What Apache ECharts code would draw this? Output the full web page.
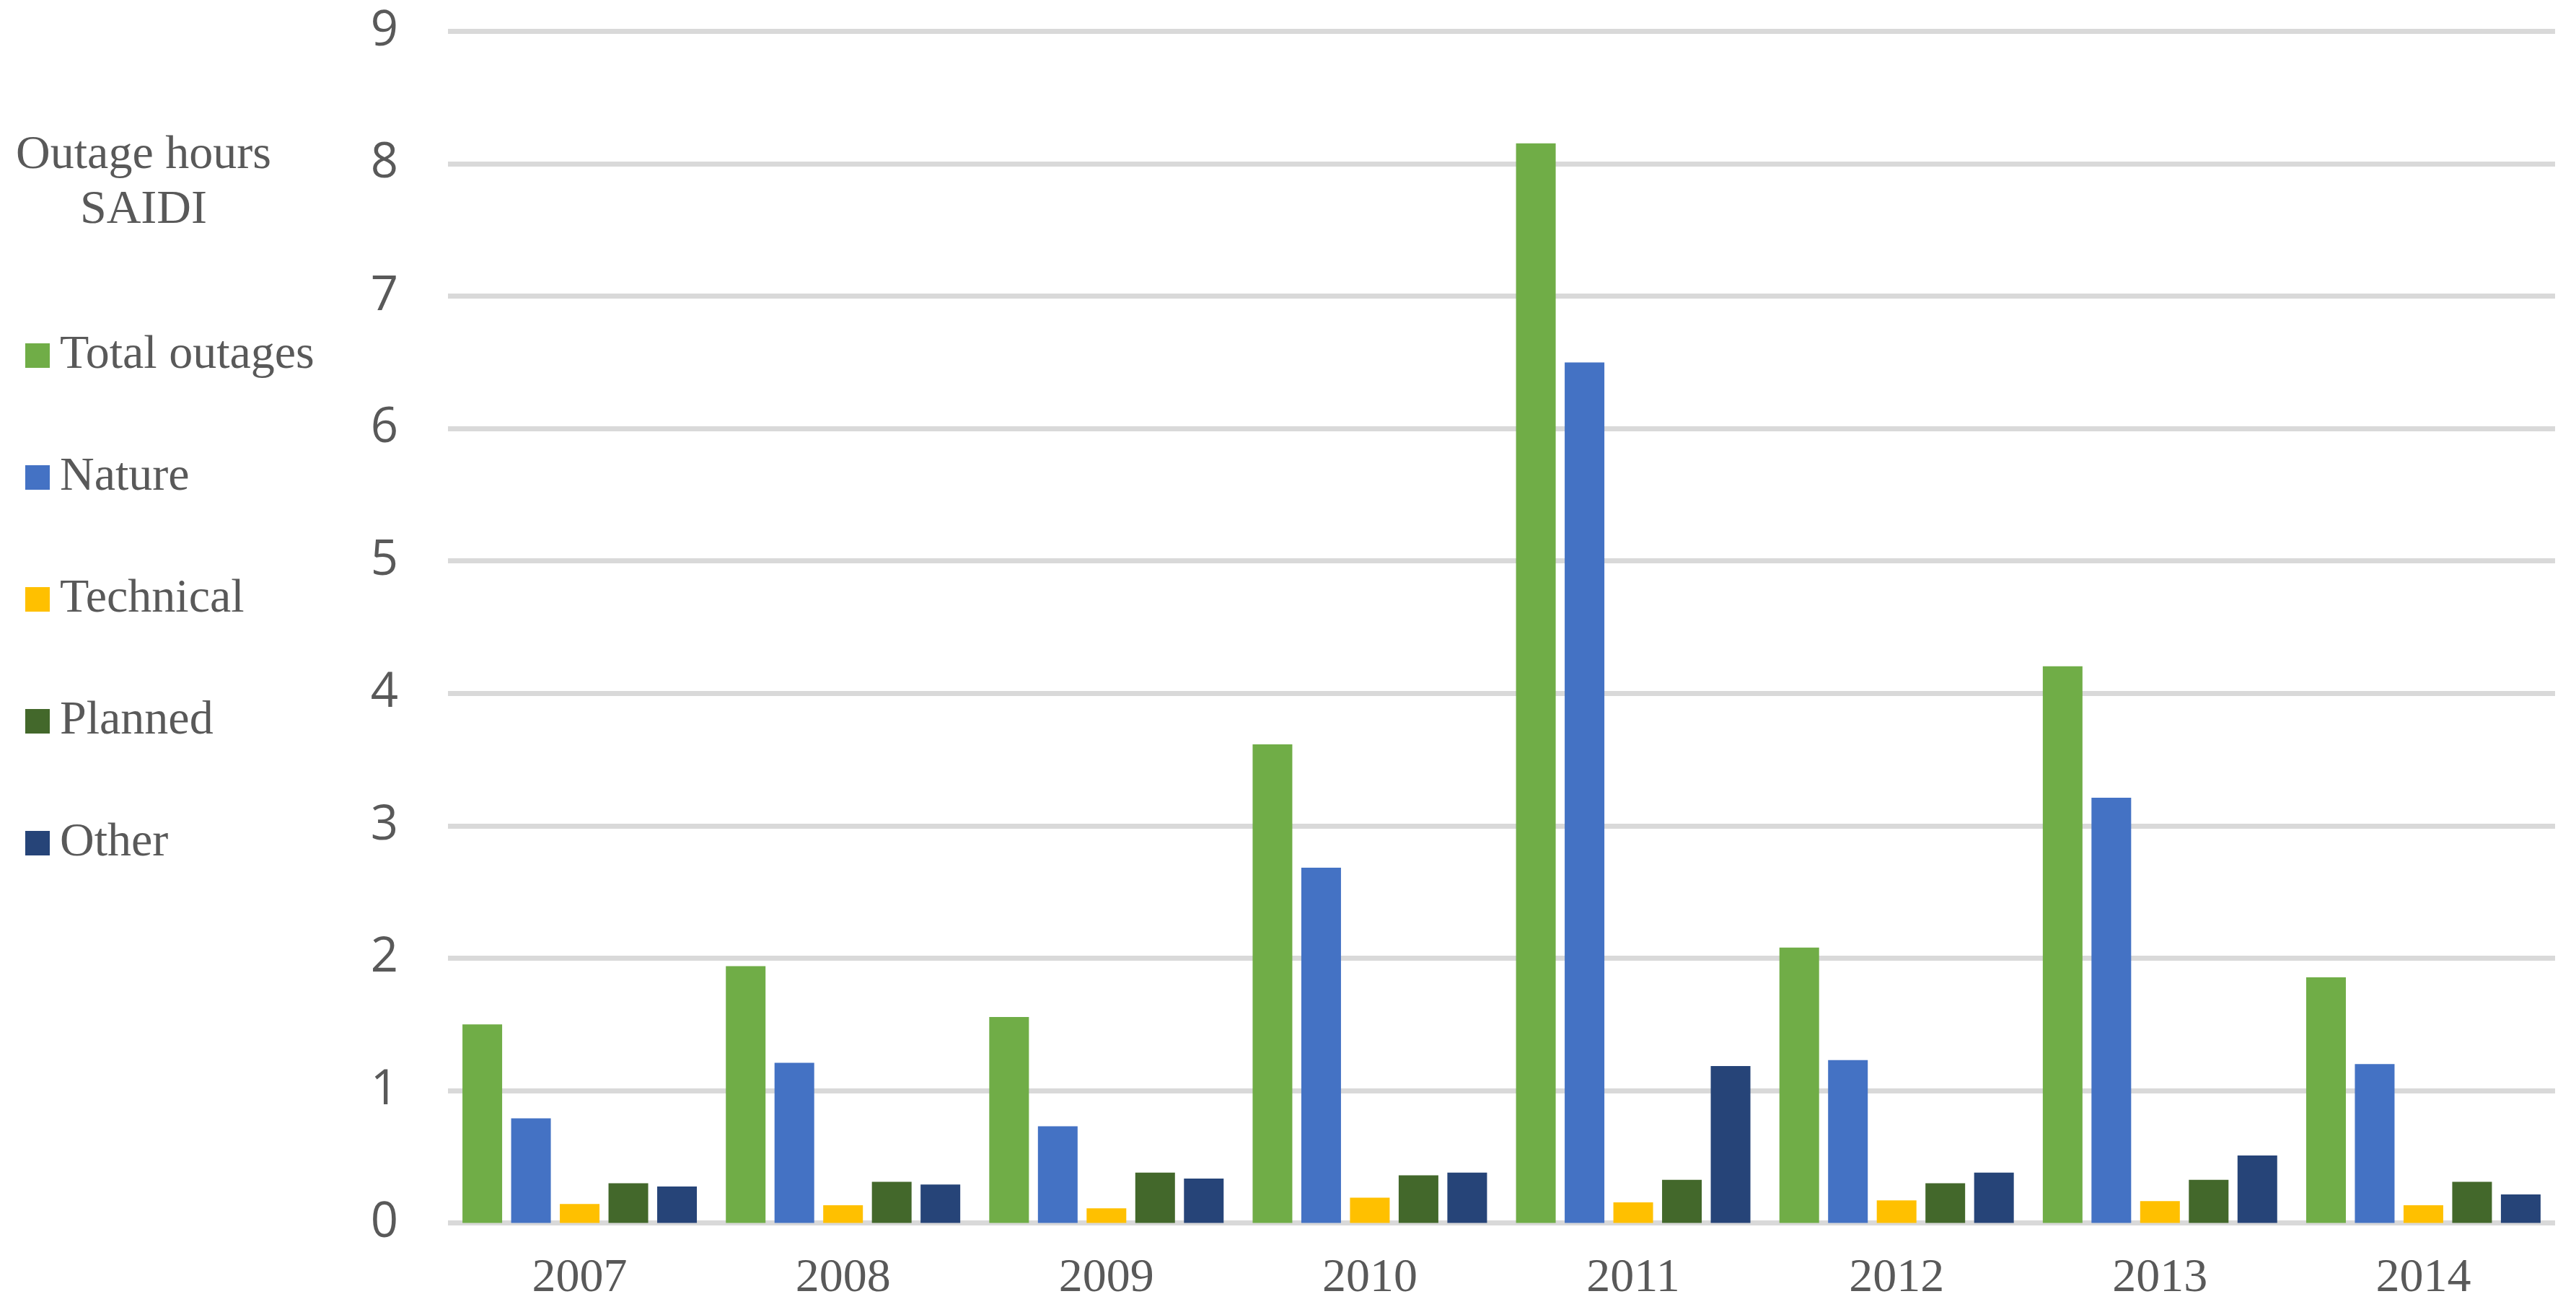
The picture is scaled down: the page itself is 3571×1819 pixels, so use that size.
<!DOCTYPE html>
<html>
<head>
<meta charset="utf-8">
<script src="https://cdn.jsdelivr.net/npm/echarts@6/dist/echarts.min.js"></script>
<style>
html,body{margin:0;padding:0;background:#fff;}
#chart{width:3571px;height:1819px;}
</style>
</head>
<body>
<div id="chart"></div>
<script>
const years = ['2007','2008','2009','2010','2011','2012','2013','2014'];
const seriesNames = ['Total outages','Nature','Technical','Planned','Other'];
const totalOutages = [1.50, 1.94, 1.555, 3.615, 8.154, 2.08, 4.204, 1.855];
const nature = [0.79, 1.21, 0.73, 2.683, 6.50, 1.23, 3.211, 1.20];
const technical = [0.143, 0.133, 0.11, 0.19, 0.155, 0.17, 0.165, 0.133];
const planned = [0.30, 0.31, 0.38, 0.36, 0.325, 0.30, 0.325, 0.31];
const other = [0.275, 0.29, 0.335, 0.38, 1.185, 0.38, 0.51, 0.215];
const yTicks = [0, 1, 2, 3, 4, 5, 6, 7, 8, 9];
const colors = ['#70AD47', '#4472C4', '#FFC000', '#43682B', '#264478'];

const values = [totalOutages, nature, technical, planned, other];
const chart = echarts.init(document.getElementById('chart'), null, {renderer: 'canvas'});
chart.setOption({
  animation: false,
  backgroundColor: '#ffffff',
  color: colors,
  title: {
    text: 'Outage hours\nSAIDI',
    left: 199,
    top: 178,
    padding: 0,
    textAlign: 'center',
    textStyle: {
      fontFamily: 'Liberation Serif',
      fontSize: 66,
      fontWeight: 'normal',
      color: '#595959',
      lineHeight: 76
    }
  },
  legend: {
    orient: 'vertical',
    left: 35,
    top: 460,
    padding: 0,
    itemWidth: 34,
    itemHeight: 34,
    itemGap: 103,
    icon: 'rect',
    data: seriesNames,
    textStyle: {
      fontFamily: 'Liberation Serif',
      fontSize: 66,
      color: '#595959',
      lineHeight: 66,
      padding: [0, 0, 0, 9]
    }
  },
  grid: {
    left: 621,
    right: 29,
    top: 43.5,
    bottom: 123.5,
    containLabel: false
  },
  xAxis: {
    type: 'category',
    data: years,
    axisLine: {show: false},
    axisTick: {show: false},
    axisLabel: {
      fontFamily: 'Liberation Serif',
      fontSize: 66,
      color: '#595959',
      lineHeight: 66,
      margin: 44
    }
  },
  yAxis: {
    type: 'value',
    min: yTicks[0],
    max: yTicks[yTicks.length - 1],
    interval: 1,
    axisLine: {show: false},
    axisTick: {show: false},
    axisLabel: {
      fontFamily: 'Open Sans',
      fontSize: 67,
      color: '#595959',
      margin: 69
    },
    splitLine: {
      show: true,
      lineStyle: {color: '#D9D9D9', width: 7}
    }
  },
  series: seriesNames.map((name, i) => ({
    name: name,
    type: 'bar',
    data: values[i],
    barWidth: 55,
    barGap: '22.7%',
    itemStyle: {color: colors[i]}
  }))
});
</script>
</body>
</html>
